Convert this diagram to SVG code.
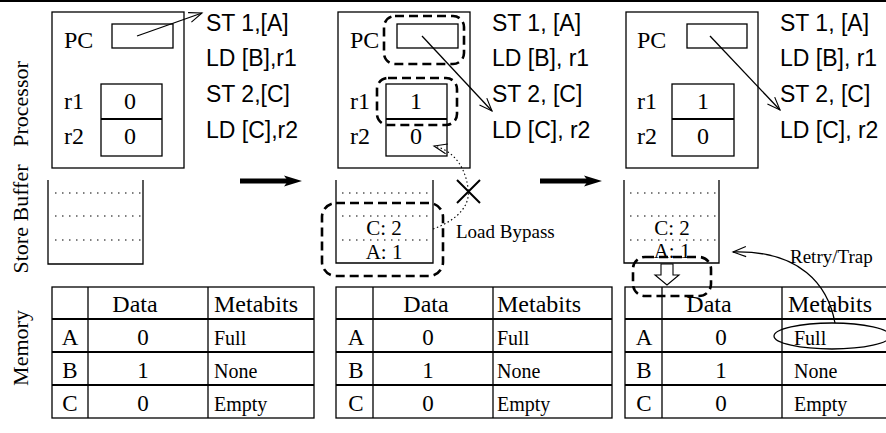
<svg xmlns="http://www.w3.org/2000/svg" width="886" height="433" viewBox="0 0 886 433">
<defs>
<style>
.sf{font-family:"Liberation Serif","Times New Roman",serif;fill:#000}
.ss{font-family:"Liberation Sans",Arial,sans-serif;fill:#000;font-size:23px}
.ln{stroke:#000;stroke-width:1.3;fill:none}
.th{stroke:#000;stroke-width:2;fill:none}
.dash{stroke:#000;stroke-width:2.6;fill:none;stroke-dasharray:9 5}
.dot{stroke:#000;stroke-width:1.2;fill:none;stroke-dasharray:1.5 5.5}
.dot2{stroke:#000;stroke-width:1.1;fill:none;stroke-dasharray:1.5 2.5}
.lbl{font-size:22px}
.reg{font-size:24px}
.hd{font-size:24px}
.cell{font-size:23px}
.mb{font-size:20px}
.sm{font-size:19px}
</style>
<marker id="v" viewBox="-14 -7 16 14" refX="0" refY="0" markerWidth="16" markerHeight="14" markerUnits="userSpaceOnUse" orient="auto">
<path d="M-13,-5 L0,0 L-13,5" fill="none" stroke="#000" stroke-width="1.1"/>
</marker>
</defs>
<rect width="886" height="433" fill="#fff"/>
<line x1="0" y1="1" x2="886" y2="1" stroke="#000" stroke-width="2"/>

<g id="row-labels">
<text class="sf lbl" text-anchor="middle" transform="translate(28,104) rotate(-90)">Processor</text>
<text class="sf lbl" text-anchor="middle" transform="translate(28,219) rotate(-90)">Store Buffer</text>
<text class="sf lbl" text-anchor="middle" transform="translate(28,348) rotate(-90)">Memory</text>
</g>

<!-- Panel 1 -->
<g id="proc1">
<rect x="52" y="12" width="132" height="156" class="ln"/>
<text class="sf reg" x="64" y="48">PC</text>
<rect x="112" y="24" width="61" height="24" class="ln"/>
<rect x="101" y="84" width="61" height="72" class="ln"/>
<line x1="101" y1="119" x2="162" y2="119" class="th"/>
<text class="sf reg" x="64" y="109">r1</text>
<text class="sf reg" x="64" y="144">r2</text>
<text class="sf reg" x="130" y="109" text-anchor="middle">0</text>
<text class="sf reg" x="130" y="144" text-anchor="middle">0</text>
</g>
<g id="instr1" class="ss">
<text x="206" y="31">ST 1,[A]</text>
<text x="206" y="66">LD [B],r1</text>
<text x="206" y="102">ST 2,[C]</text>
<text x="206" y="138">LD [C],r2</text>
</g>
<g id="sb1">
<path d="M48,180 V264 H143 V180" class="ln"/>
<line x1="55" y1="193" x2="143" y2="193" class="dot"/>
<line x1="55" y1="216" x2="143" y2="216" class="dot"/>
<line x1="55" y1="240" x2="143" y2="240" class="dot"/>
</g>
<g id="mem1">
<rect x="52" y="287" width="262" height="131" class="ln"/>
<line x1="88" y1="287" x2="88" y2="418" class="ln"/>
<line x1="208" y1="287" x2="208" y2="418" class="ln"/>
<line x1="52" y1="319" x2="314" y2="319" class="th"/>
<line x1="52" y1="352" x2="314" y2="352" class="th"/>
<line x1="52" y1="385" x2="314" y2="385" class="th"/>
<text class="sf hd" x="135" y="312" text-anchor="middle">Data</text>
<text class="sf hd" x="214" y="312">Metabits</text>
<text class="sf cell" x="70" y="345" text-anchor="middle">A</text>
<text class="sf cell" x="70" y="378" text-anchor="middle">B</text>
<text class="sf cell" x="70" y="411" text-anchor="middle">C</text>
<text class="sf cell" x="143" y="345" text-anchor="middle">0</text>
<text class="sf cell" x="143" y="378" text-anchor="middle">1</text>
<text class="sf cell" x="143" y="411" text-anchor="middle">0</text>
<text class="sf mb" x="214" y="345">Full</text>
<text class="sf mb" x="214" y="378">None</text>
<text class="sf mb" x="214" y="411">Empty</text>
</g>

<!-- Panel 2 -->
<g id="proc2">
<rect x="338" y="12" width="132" height="156" class="ln"/>
<text class="sf reg" x="350" y="48">PC</text>
<rect x="397" y="24" width="61" height="24" class="ln"/>
<rect x="386" y="84" width="61" height="72" class="ln"/>
<line x1="386" y1="119" x2="447" y2="119" class="th"/>
<text class="sf reg" x="350" y="109">r1</text>
<text class="sf reg" x="350" y="144">r2</text>
<text class="sf reg" x="416" y="109" text-anchor="middle">1</text>
<text class="sf reg" x="416" y="144" text-anchor="middle">0</text>
<rect x="384" y="16" width="80" height="48" rx="11" class="dash"/>
<rect x="377" y="78" width="80" height="47" rx="11" class="dash"/>
</g>
<g id="instr2" class="ss">
<text x="492" y="31">ST 1, [A]</text>
<text x="492" y="66">LD [B], r1</text>
<text x="492" y="102">ST 2, [C]</text>
<text x="492" y="138">LD [C], r2</text>
</g>
<g id="sb2">
<path d="M336,180 V263 H433 V180" class="ln"/>
<line x1="342" y1="193" x2="433" y2="193" class="dot"/>
<line x1="342" y1="216" x2="433" y2="216" class="dot"/>
<line x1="342" y1="240" x2="433" y2="240" class="dot"/>
<text class="sf cell" x="384" y="235" text-anchor="middle" style="font-size:21px">C: 2</text>
<text class="sf cell" x="384" y="259" text-anchor="middle" style="font-size:21px">A: 1</text>
<rect x="322" y="203" width="121" height="73" rx="14" class="dash"/>
<text class="sf sm" x="456" y="238">Load Bypass</text>
</g>
<g id="mem2">
<rect x="336" y="287" width="276" height="131" class="ln"/>
<line x1="373" y1="287" x2="373" y2="418" class="ln"/>
<line x1="493" y1="287" x2="493" y2="418" class="ln"/>
<line x1="336" y1="319" x2="612" y2="319" class="th"/>
<line x1="336" y1="352" x2="612" y2="352" class="th"/>
<line x1="336" y1="385" x2="612" y2="385" class="th"/>
<text class="sf hd" x="426" y="312" text-anchor="middle">Data</text>
<text class="sf hd" x="497" y="312">Metabits</text>
<text class="sf cell" x="356" y="345" text-anchor="middle">A</text>
<text class="sf cell" x="356" y="378" text-anchor="middle">B</text>
<text class="sf cell" x="356" y="411" text-anchor="middle">C</text>
<text class="sf cell" x="428" y="345" text-anchor="middle">0</text>
<text class="sf cell" x="428" y="378" text-anchor="middle">1</text>
<text class="sf cell" x="428" y="411" text-anchor="middle">0</text>
<text class="sf mb" x="497" y="345">Full</text>
<text class="sf mb" x="497" y="378">None</text>
<text class="sf mb" x="497" y="411">Empty</text>
</g>

<!-- Panel 3 -->
<g id="proc3">
<rect x="626" y="12" width="132" height="156" class="ln"/>
<text class="sf reg" x="637" y="48">PC</text>
<rect x="687" y="24" width="60" height="24" class="ln"/>
<rect x="672" y="84" width="62" height="72" class="ln"/>
<line x1="672" y1="119" x2="734" y2="119" class="th"/>
<text class="sf reg" x="637" y="109">r1</text>
<text class="sf reg" x="637" y="144">r2</text>
<text class="sf reg" x="703" y="109" text-anchor="middle">1</text>
<text class="sf reg" x="703" y="144" text-anchor="middle">0</text>
</g>
<g id="instr3" class="ss">
<text x="780" y="31">ST 1, [A]</text>
<text x="780" y="66">LD [B], r1</text>
<text x="780" y="102">ST 2, [C]</text>
<text x="780" y="138">LD [C], r2</text>
</g>
<g id="sb3">
<path d="M624,180 V263 H719 V180" class="ln"/>
<line x1="630" y1="193" x2="719" y2="193" class="dot"/>
<line x1="630" y1="216" x2="719" y2="216" class="dot"/>
<line x1="630" y1="240" x2="719" y2="240" class="dot"/>
<text class="sf cell" x="672" y="235" text-anchor="middle" style="font-size:21px">C: 2</text>
<text class="sf cell" x="672" y="258" text-anchor="middle" style="font-size:21px">A: 1</text>
<rect x="633" y="257" width="78" height="39" rx="12" class="dash"/>
<polygon points="661,264 661,275 655,275 667,285 679,275 673,275 673,264" fill="#fff" stroke="#000" stroke-width="1.1"/>
<text class="sf sm" x="790" y="263">Retry/Trap</text>
</g>
<g id="mem3">
<rect x="625" y="287" width="276" height="131" class="ln"/>
<line x1="662" y1="287" x2="662" y2="418" class="ln"/>
<line x1="782" y1="287" x2="782" y2="418" class="ln"/>
<line x1="625" y1="319" x2="901" y2="319" class="th"/>
<line x1="625" y1="352" x2="901" y2="352" class="th"/>
<line x1="625" y1="385" x2="901" y2="385" class="th"/>
<text class="sf hd" x="709" y="312" text-anchor="middle">Data</text>
<text class="sf hd" x="788" y="312">Metabits</text>
<text class="sf cell" x="644" y="345" text-anchor="middle">A</text>
<text class="sf cell" x="644" y="378" text-anchor="middle">B</text>
<text class="sf cell" x="644" y="411" text-anchor="middle">C</text>
<text class="sf cell" x="721" y="345" text-anchor="middle">0</text>
<text class="sf cell" x="721" y="378" text-anchor="middle">1</text>
<text class="sf cell" x="721" y="411" text-anchor="middle">0</text>
<text class="sf mb" x="794" y="345">Full</text>
<text class="sf mb" x="794" y="378">None</text>
<text class="sf mb" x="794" y="411">Empty</text>
<ellipse cx="832" cy="336" rx="58" ry="13" class="ln" stroke-width="1.1"/>
</g>

<g id="connectors">
<line x1="137" y1="36" x2="202" y2="13" class="ln" stroke-width="1.1" marker-end="url(#v)"/>
<line x1="422" y1="36" x2="492" y2="111" class="ln" stroke-width="1.1" marker-end="url(#v)"/>
<line x1="710" y1="36" x2="780" y2="110" class="ln" stroke-width="1.1" marker-end="url(#v)"/>
<path d="M433,229 C458,220 471,205 468,188 C465,165 452,150 434,146" class="dot2" marker-end="url(#v)"/>
<path d="M457,180 L480,203 M480,180 L457,203" stroke="#000" stroke-width="2" fill="none"/>
<path d="M835,323 C828,285 800,250 733,252" class="ln" stroke-width="1.1" marker-end="url(#v)"/>
<line x1="240" y1="181" x2="292" y2="181" stroke="#000" stroke-width="5"/>
<polygon points="302,181 284,175.5 288,181 284,186.5" fill="#000"/>
<line x1="540" y1="181" x2="592" y2="181" stroke="#000" stroke-width="5"/>
<polygon points="602,181 584,175.5 588,181 584,186.5" fill="#000"/>
</g>
</svg>
